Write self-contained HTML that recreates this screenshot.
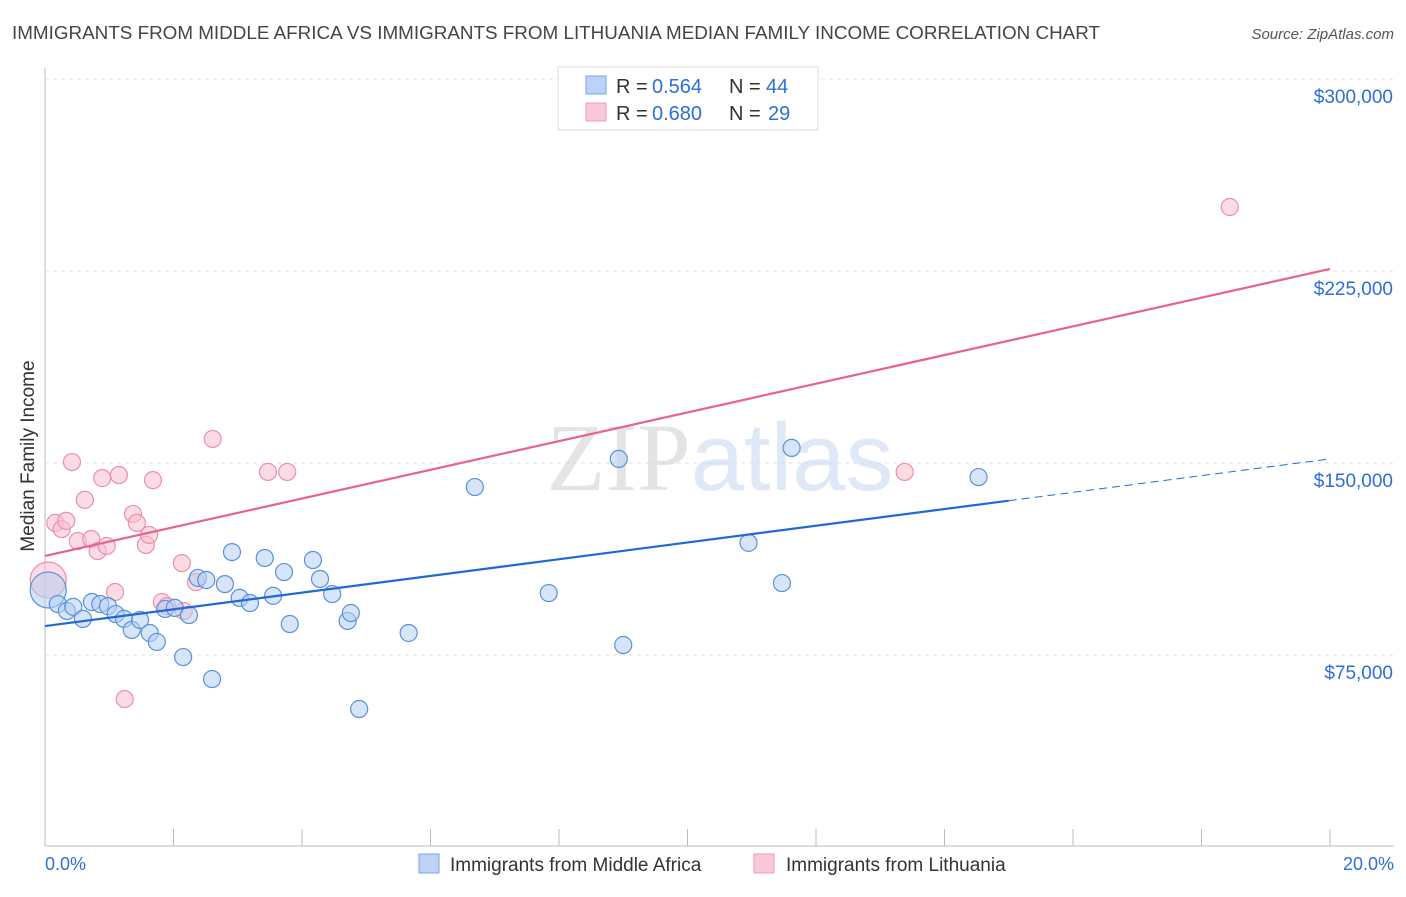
<!DOCTYPE html>
<html><head><meta charset="utf-8"><style>
body{margin:0;background:#fff;font-family:"Liberation Sans",sans-serif;}
svg text{font-family:"Liberation Sans",sans-serif;}
</style></head><body>
<svg id="chart" width="1406" height="892" viewBox="0 0 1406 892" xmlns="http://www.w3.org/2000/svg">
<text x="12" y="39" font-size="18" fill="#444" textLength="1088" lengthAdjust="spacingAndGlyphs">IMMIGRANTS FROM MIDDLE AFRICA VS IMMIGRANTS FROM LITHUANIA MEDIAN FAMILY INCOME CORRELATION CHART</text>
<text x="1394" y="39" font-size="15" fill="#555" text-anchor="end" font-style="italic">Source: ZipAtlas.com</text>
<text transform="translate(34,456) rotate(-90)" font-size="19" fill="#333" text-anchor="middle">Median Family Income</text>
<g id="grid"></g>
<text x="720" y="490" font-size="96" text-anchor="middle" opacity="0.55"><tspan font-family="Liberation Serif" fill="#cfcfcf">ZIP</tspan><tspan fill="#c4d6f0">atlas</tspan></text>
<g id="points"></g>
<g id="lines"></g>
<g>
<rect x="558" y="67" width="260" height="63" fill="#fff" stroke="#ddd"/>
<rect x="586" y="76" width="20" height="18" fill="#bcd3f5" stroke="#7aa6e6"/>
<rect x="586" y="103" width="20" height="18" fill="#f9c9d7" stroke="#ec9ab3"/>
<text x="616" y="93" font-size="20" fill="#333">R =</text><text x="652" y="93" font-size="20" fill="#2d6fd6">0.564</text>
<text x="729" y="93" font-size="20" fill="#333">N =</text><text x="766" y="93" font-size="20" fill="#2d6fd6">44</text>
<text x="616" y="120" font-size="20" fill="#333">R =</text><text x="652" y="120" font-size="20" fill="#2d6fd6">0.680</text>
<text x="729" y="120" font-size="20" fill="#333">N =</text><text x="768" y="120" font-size="20" fill="#2d6fd6">29</text>
</g>
<g>
<rect x="419" y="854" width="20" height="19" fill="#bcd3f5" stroke="#7aa6e6"/>
<text x="450" y="871" font-size="19" fill="#333">Immigrants from Middle Africa</text>
<rect x="754" y="854" width="20" height="19" fill="#f9c9d7" stroke="#ec9ab3"/>
<text x="786" y="871" font-size="19" fill="#333">Immigrants from Lithuania</text>
</g>
<text x="45" y="870" font-size="18" fill="#2d6fd6">0.0%</text>
<text x="1394" y="870" font-size="18" fill="#2d6fd6" text-anchor="end">20.0%</text>
</svg>
<script>
const yTicks=[75000,150000,225000,300000];
const yTickLabels=["$75,000","$150,000","$225,000","$300,000"];
const xTicks=[0,2,4,6,8,10,12,14,16,18,20];
const blueX=[0.05,0.20,0.34,0.44,0.59,0.73,0.86,0.98,1.10,1.23,1.35,1.48,1.63,1.74,1.87,2.02,2.15,2.24,2.38,2.51,2.60,2.80,2.91,3.03,3.19,3.42,3.55,3.72,3.81,4.17,4.28,4.47,4.71,4.76,4.89,5.66,6.69,7.84,8.93,9.00,10.95,11.47,11.62,14.53];
const blueY=[100400,94900,92200,93800,89100,95700,94900,94100,91000,89100,84800,88700,83600,80100,93000,93400,74200,90600,105100,104300,65600,102700,115200,97300,95300,112900,98100,107400,87100,112100,104700,98800,88300,91400,53900,83600,140600,99200,151600,78900,118800,103100,155900,144500];
const pinkX=[0.05,0.16,0.26,0.33,0.42,0.51,0.62,0.72,0.82,0.89,0.96,1.09,1.15,1.24,1.37,1.43,1.57,1.62,1.68,1.82,1.90,2.13,2.16,2.35,2.61,3.47,3.77,13.38,18.44];
const pinkY=[104300,126600,124200,127400,150400,119500,135600,120300,115600,144100,117600,99600,145300,57800,130100,126600,118000,121900,143300,95700,94100,110900,92200,103500,159400,146500,146500,146500,250000];
const blueLine=[0,86300,20,151600]; const blueSolidEnd=15.0;
const pinkLine=[0,113700,20,225800];
const NS="http://www.w3.org/2000/svg";
const X=p=>45+p*64.25, Y=v=>79+(300000-v)/75000*192;
function mk(t,a,parent){const e=document.createElementNS(NS,t);for(const k in a)e.setAttribute(k,a[k]);parent.appendChild(e);return e;}
const grid=document.getElementById('grid');
yTicks.forEach((v,i)=>{
 const l=mk('line',{x1:45,x2:1394,y1:Y(v),y2:Y(v),stroke:'#e2e2e2','stroke-dasharray':'4,4'},grid);
 
 
 const t=mk('text',{x:1393,y:Y(v)+24,'font-size':19,fill:'#2d6fd6','text-anchor':'end'},grid);
 t.textContent=yTickLabels[i];
 
 
});
const ax=mk('line',{x1:45,x2:45,y1:68,y2:846,stroke:'#bbb'},grid);


const bx=mk('line',{x1:45,x2:1394,y1:846,y2:846,stroke:'#bbb'},grid);


xTicks.forEach(p=>{const t=mk('line',{x1:X(p),x2:X(p),y1:829,y2:846,stroke:'#bbb'},grid);
 
 });
const pts=document.getElementById('points');
function dots(xs,ys,fill,stroke,name){xs.forEach((p,i)=>{
 const r=i===0?18:8.5;
 const c=mk('circle',{cx:X(p),cy:Y(ys[i]),r:r,fill:fill,'fill-opacity':0.55,stroke:stroke,'stroke-width':1.2},pts);
 
 
});}
dots(pinkX,pinkY,'#f7bfd0','#ec8fab','point-lithuania');
dots(blueX,blueY,'#b5cff3','#5a90de','point-middle-africa');
const lines=document.getElementById('lines');
const at=(L,p)=>L[1]+(L[3]-L[1])*(p-L[0])/(L[2]-L[0]);
const b1=mk('line',{x1:X(0),y1:Y(at(blueLine,0)),x2:X(blueSolidEnd),y2:Y(at(blueLine,blueSolidEnd)),stroke:'#2068d8','stroke-width':2.2},lines);


const b2=mk('line',{x1:X(blueSolidEnd),y1:Y(at(blueLine,blueSolidEnd)),x2:X(20),y2:Y(at(blueLine,20)),stroke:'#2068d8','stroke-width':1,'stroke-dasharray':'8,5'},lines);


const p1=mk('line',{x1:X(0),y1:Y(at(pinkLine,0)),x2:X(20),y2:Y(at(pinkLine,20)),stroke:'#e8628c','stroke-width':2.2},lines);


</script>
</body></html>
